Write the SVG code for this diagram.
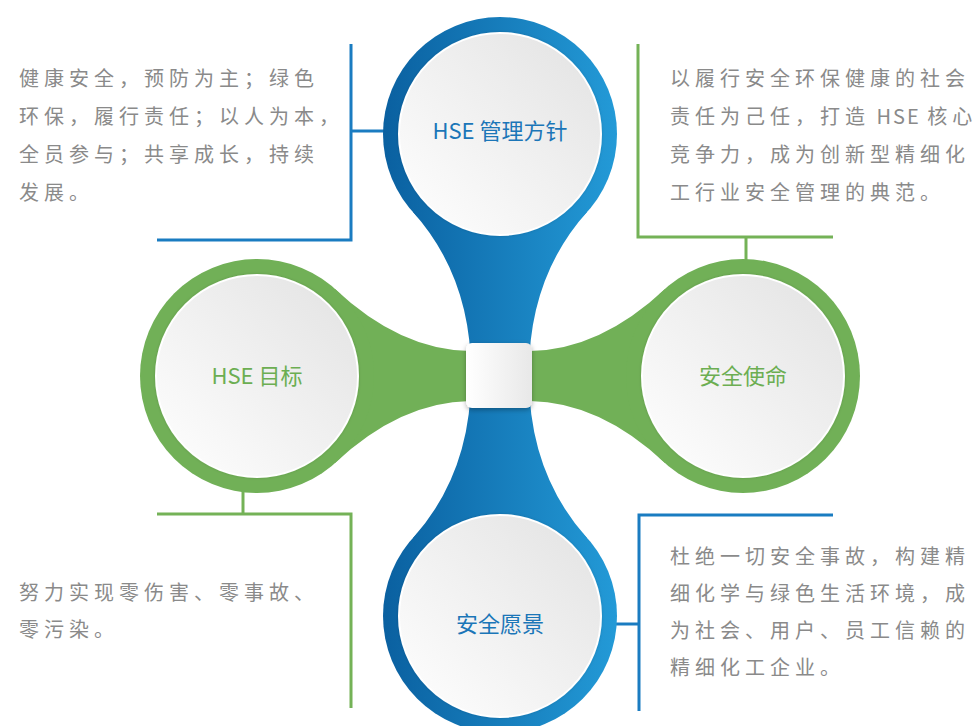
<svg xmlns="http://www.w3.org/2000/svg" width="976" height="726" viewBox="0 0 976 726">
<style>
.body{font-family:"Noto Sans CJK SC","Noto Sans",sans-serif;font-size:20px;fill:#8a8a8a;letter-spacing:5px}
.lat{letter-spacing:2px}
.lbl{font-family:"Noto Sans CJK SC","Noto Sans",sans-serif;font-size:22px;text-anchor:middle}
.blueT{fill:#1b76b8}
.greenT{fill:#6cae52}
.cb{stroke:#1a7cc1;stroke-width:3;fill:none}
.cg{stroke:#74b257;stroke-width:3;fill:none}
.inner{fill:url(#innerGrad);stroke:#ffffff;stroke-width:2}
</style>
<defs>
<linearGradient id="blueGrad" gradientUnits="userSpaceOnUse" x1="383" y1="0" x2="617" y2="0">
<stop offset="0" stop-color="#0a60a0"/>
<stop offset="1" stop-color="#239ad7"/>
</linearGradient>
<linearGradient id="innerGrad" x1="0" y1="1" x2="1" y2="0">
<stop offset="0" stop-color="#ffffff"/>
<stop offset="1" stop-color="#e2e2e2"/>
</linearGradient>
<linearGradient id="sqGrad" x1="0" y1="0" x2="1" y2="0">
<stop offset="0" stop-color="#ffffff"/>
<stop offset="1" stop-color="#e8e8e8"/>
</linearGradient>
<filter id="sh" x="-30%" y="-30%" width="160%" height="160%">
<feDropShadow dx="0" dy="2" stdDeviation="2.5" flood-color="#000" flood-opacity="0.3"/>
</filter>
<filter id="sh2" x="-10%" y="-10%" width="120%" height="120%">
<feDropShadow dx="0" dy="0" stdDeviation="1.5" flood-color="#000" flood-opacity="0.15"/>
</filter>
</defs>

<g id="connectors">
<polyline class="cb" points="351,44 351,240 157,240"/>
<line class="cb" x1="351" y1="131" x2="386" y2="131"/>
<polyline class="cg" points="638,44 638,237 833,237"/>
<line class="cg" x1="746" y1="237" x2="746" y2="262"/>
<polyline class="cg" points="157,514 351,514 351,708"/>
<line class="cg" x1="243" y1="490" x2="243" y2="514"/>
<polyline class="cb" points="833,515 639,515 639,711"/>
<line class="cb" x1="614" y1="624" x2="639" y2="624"/>
</g>

<g id="necks">
<path fill="#71b057" d="M335,289 Q400,350 470,351 L470,401 Q400,402 335,463 Z"/>
<path fill="#71b057" d="M665,289 Q600,350 530,351 L530,401 Q600,402 665,463 Z"/>
<path fill="url(#blueGrad)" d="M413,212 Q472,278 471,376 L529,376 Q528,278 587,212 Z"/>
<path fill="url(#blueGrad)" d="M413,538 Q472,472 471,374 L529,374 Q528,472 587,538 Z"/>
</g>

<g id="node-top">
<circle cx="500" cy="134" r="117" fill="url(#blueGrad)"/>
<circle class="inner" cx="500" cy="134" r="101" filter="url(#sh2)"/>
<text class="lbl blueT" x="500" y="139">HSE 管理方针</text>
</g>
<g id="node-bottom">
<circle cx="500" cy="616" r="117" fill="url(#blueGrad)"/>
<circle class="inner" cx="500" cy="616" r="101" filter="url(#sh2)"/>
<text class="lbl blueT" x="500" y="632">安全愿景</text>
</g>
<g id="node-left">
<circle cx="257" cy="376" r="117" fill="#71b057"/>
<circle class="inner" cx="257" cy="376" r="101" filter="url(#sh2)"/>
<text class="lbl greenT" x="257" y="384">HSE 目标</text>
</g>
<g id="node-right">
<circle cx="743" cy="376" r="117" fill="#71b057"/>
<circle class="inner" cx="743" cy="376" r="101" filter="url(#sh2)"/>
<text class="lbl greenT" x="743" y="384">安全使命</text>
</g>
<g id="node-center">
<rect x="466" y="343" width="66" height="65" rx="6" fill="url(#sqGrad)" filter="url(#sh)"/>
</g>

<g id="text-top-left">
<text class="body" x="19" y="86">健康安全，预防为主；绿色</text>
<text class="body" x="19" y="124">环保，履行责任；以人为本，</text>
<text class="body" x="19" y="162">全员参与；共享成长，持续</text>
<text class="body" x="19" y="200">发展。</text>
</g>
<g id="text-top-right">
<text class="body" x="670" y="86">以履行安全环保健康的社会</text>
<text class="body" x="670" y="124">责任为己任，打造<tspan class="lat">&#160;HSE&#160;</tspan>核<tspan letter-spacing="0">心</tspan></text>
<text class="body" x="670" y="162">竞争力，成为创新型精细化</text>
<text class="body" x="670" y="200">工行业安全管理的典范。</text>
</g>
<g id="text-bottom-left">
<text class="body" x="19" y="600">努力实现零伤害、零事故、</text>
<text class="body" x="19" y="637">零污染。</text>
</g>
<g id="text-bottom-right">
<text class="body" x="670" y="564">杜绝一切安全事故，构建精</text>
<text class="body" x="670" y="601">细化学与绿色生活环境，成</text>
<text class="body" x="670" y="638">为社会、用户、员工信赖的</text>
<text class="body" x="670" y="675">精细化工企业。</text>
</g>
</svg>
